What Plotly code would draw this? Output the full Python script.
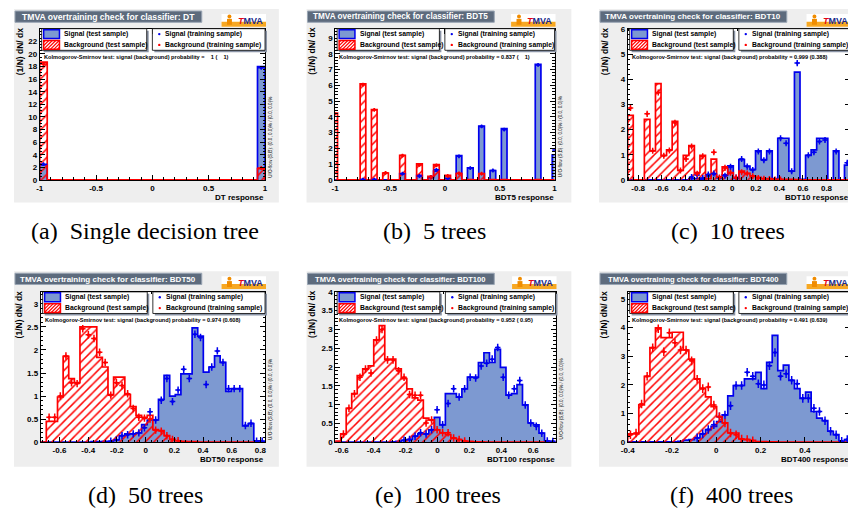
import plotly.graph_objects as go

# page body has an 8px margin: draw in page pixels, shifted into the figure
OX, OY = 8, 8
W, H = 856 - OX, 510 - OY

# ---------------- data ----------------
# (a) single decision tree : 30 bins on [-1, 1]; only filled bins listed
dt_hist = (-1.0, 1.0, 30)
dt_bins = [0, 29]
dt_sig_test = [2.4, 18.0]
dt_bkg_test = [18.7, 1.8]
dt_sig_train = [2.5, 17.8]
dt_bkg_train = [18.4, 1.9]

# (b) 5 trees : 40 bins on [-1.03, 1.03]; only filled bins listed
bdt5_hist = (-1.03, 1.03, 40)
bdt5_bins = [0, 5, 7, 9, 12, 15, 17, 18, 20, 22, 24, 26, 28, 30, 36, 39]
bdt5_sig_test = [0.0, 0.02, 0.02, 0.0, 0.41, 0.29, 0.15, 0.56, 0.06, 1.54, 0.77, 3.42, 0.6, 3.26, 7.34, 1.6]
bdt5_bkg_test = [4.25, 6.1, 4.46, 0.44, 1.56, 1.02, 0.22, 0.98, 0.29, 0.41, 0.02, 0.41, 0.02, 0.02, 0.02, 0.0]
bdt5_sig_train = [None, 0.02, 0.02, None, 0.4, 0.25, 0.2, 0.64, 0.1, 1.5, 0.75, 3.4, 0.6, 3.2, 7.3, 1.9]
bdt5_bkg_train = [4.2, 6.05, 4.45, 0.45, 1.55, 0.95, 0.2, 0.92, 0.25, 0.42, None, 0.4, None, None, None, None]

# (c) 10 trees : 40 bins on [-0.889, 1.0]
bdt10_hist = (-0.889, 1.0, 40)
bdt10_sig_test = [0, 0, 0, 0, 0, 0, 0, 0, 0, 0,
                  0, 0.05, 0.05, 0.03, 0.16, 0.22, 0.09, 0.2, 0.56, 0.06,
                  0.81, 0.55, 0.42, 1.16, 0.81, 1.16, 0.05, 1.66, 1.66, 0.35,
                  4.29, 0.02, 0.98, 1.2, 1.66, 1.66, 0.0, 1.16, 0.0, 0.59]
bdt10_bkg_test = [2.57, 0, 0, 2.41, 1.16, 3.83, 0.98, 1.2, 2.33, 0.38,
                  0.98, 1.37, 0.29, 0.98, 0.05, 0.83, 0.12, 0.52, 0.29, 0.08,
                  0.35, 0.26, 0.16, 0.1, 0.05, 0.05, 0.02, 0.02, 0.02, 0.02,
                  0.01, 0, 0, 0, 0, 0, 0, 0, 0, 0]
bdt10_sig_train = [None, None, None, None, None, None, None, None, None, None,
                   None, 0.12, 0.2, 0.08, 0.22, 0.26, 0.08, 0.17, 0.52, 0.1,
                   0.83, 0.53, 0.4, 1.13, 0.78, 1.13, None, 1.66, 1.46, 0.35,
                   4.65, None, 0.98, 1.1, 1.53, 1.59, None, 1.13, None, 0.68]
bdt10_bkg_train = [2.86, None, None, 2.63, 1.16, 3.48, 0.96, 1.17, 2.28, 0.38,
                   0.83, 1.33, 0.25, 0.94, None, 1.1, 0.1, 0.48, 0.29, 0.1,
                   0.31, 0.26, 0.15, 0.08, 0.05, 0.04, 0.02, 0.02, None, None,
                   None, None, None, None, None, None, None, None, None, None]

# (d) 50 trees : 40 bins on [-0.731, 0.832]
bdt50_hist = (-0.731, 0.832, 40)
bdt50_sig_test = [0, 0, 0, 0, 0, 0, 0, 0, 0, 0.01,
                  0.01, 0.02, 0.02, 0.05, 0.14, 0.18, 0.18, 0.2, 0.38, 0.48,
                  0.48, 0.93, 1.45, 1.0, 1.03, 1.48, 1.48, 2.48, 2.3, 1.52,
                  1.63, 1.87, 1.73, 1.1, 1.16, 1.16, 0.35, 0.4, 0.03, 0.02]
bdt50_bkg_test = [0, 0.45, 0.45, 0.98, 1.86, 1.38, 1.29, 2.5, 2.5, 2.5,
                  1.84, 1.63, 1.03, 1.41, 1.41, 1.03, 0.77, 0.58, 0.54, 0.58,
                  0.27, 0.25, 0.14, 0.06, 0.03, 0.02, 0.01, 0.01, 0, 0,
                  0, 0, 0, 0, 0, 0, 0, 0, 0, 0]
bdt50_sig_train = [None, None, None, None, None, None, None, None, None, None,
                   None, None, 0.02, 0.05, 0.14, 0.16, 0.18, 0.2, 0.31, 0.66,
                   0.48, 0.91, 1.38, 0.88, 1.13, 1.58, 1.38, 2.34, 2.27, 1.25,
                   1.63, 1.98, 1.73, 1.16, 1.16, 1.16, 0.36, 0.41, 0.02, 0.02]
bdt50_bkg_train = [None, 0.54, 0.54, 1.0, 1.87, 1.29, 1.27, 2.46, 2.33, 2.25,
                   1.95, 1.73, 1.02, 1.29, 1.23, 1.05, 0.73, 0.54, 0.52, 0.5,
                   0.26, 0.24, 0.14, 0.06, 0.03, None, None, None, None, None,
                   None, None, None, None, None, None, None, None, None, None]

# (e) 100 trees : 40 bins on [-0.641, 0.74]
bdt100_hist = (-0.641, 0.74, 40)
bdt100_sig_test = [0, 0, 0, 0, 0, 0, 0, 0, 0, 0,
                   0.01, 0.02, 0.05, 0.07, 0.16, 0.22, 0.22, 0.33, 0.66, 0.46,
                   1.29, 1.29, 1.2, 1.42, 1.73, 1.73, 2.12, 2.38, 2.12, 2.47,
                   1.99, 1.25, 1.29, 1.53, 0.99, 0.51, 0.46, 0.24, 0.03, 0.02]
bdt100_bkg_test = [0.03, 0.22, 0.9, 1.29, 1.77, 1.95, 2.03, 2.72, 3.1, 2.21,
                   2.21, 1.95, 1.69, 1.42, 1.18, 1.12, 0.64, 0.59, 0.33, 0.25,
                   0.2, 0.11, 0.07, 0.03, 0.02, 0.01, 0.01, 0, 0, 0,
                   0, 0, 0, 0, 0, 0, 0, 0, 0, 0]
bdt100_sig_train = [None, None, None, None, None, None, None, None, None, None,
                    None, None, 0.05, 0.07, 0.16, 0.25, 0.22, 0.33, 0.86, 0.46,
                    1.03, 1.42, 1.2, 1.42, 1.73, 1.71, 2.03, 2.1, 2.21, 2.52,
                    1.73, 1.25, 1.42, 1.64, 0.99, 0.51, 0.42, 0.24, 0.03, 0.02]
bdt100_bkg_train = [None, 0.22, 0.9, 1.29, 1.73, 1.95, 1.84, 2.72, 3.0, 2.19,
                    2.19, 1.9, 1.73, 1.27, 1.25, 1.25, 0.51, 0.59, 0.33, 0.25,
                    0.25, 0.11, 0.07, 0.03, None, None, None, None, None, None,
                    None, None, None, None, None, None, None, None, None, None]

# (f) 400 trees : 40 bins on [-0.4, 0.604]
bdt400_hist = (-0.4, 0.604, 40)
bdt400_sig_test = [0.01, 0.01, 0.01, 0.01, 0.01, 0.01, 0.01, 0.01, 0.01, 0.03,
                   0.07, 0.09, 0.15, 0.29, 0.44, 0.55, 0.72, 0.95, 1.62, 1.98,
                   1.98, 2.21, 2.21, 2.44, 1.87, 2.79, 3.73, 2.5, 2.69, 2.16,
                   1.87, 1.53, 1.75, 1.07, 0.84, 0.75, 0.38, 0.26, 0.03, 0.09]
bdt400_bkg_test = [0.29, 0.29, 1.3, 2.3, 3.3, 3.99, 3.65, 3.65, 3.84, 3.84,
                   3.22, 2.9, 2.21, 1.89, 1.58, 1.24, 0.89, 0.67, 0.32, 0.32,
                   0.11, 0.09, 0.06, 0.02, 0.02, 0.01, 0.01, 0, 0, 0,
                   0, 0, 0, 0, 0, 0, 0, 0, 0, 0]
bdt400_sig_train = [None, None, None, None, None, None, None, None, None, None,
                    None, None, 0.15, 0.29, 0.44, 0.61, 0.89, 0.95, 1.27, 1.98,
                    1.98, 2.44, 2.3, 2.04, 2.0, 2.67, 3.13, 2.3, 2.39, 2.16,
                    2.04, 1.53, 1.53, 1.18, 1.07, 0.75, 0.38, 0.26, 0.03, 0.09]
bdt400_bkg_train = [0.26, 0.32, 1.33, 2.3, 3.3, 3.96, 3.16, 3.82, 3.47, 3.22,
                    3.22, 2.84, 2.2, 1.87, 1.93, 1.3, 0.89, 0.67, 0.32, 0.26,
                    0.11, 0.09, 0.05, None, None, None, None, None, None, None,
                    None, None, None, None, None, None, None, None, None, None]

# tick labels
x_ticks_ab = [-1, -0.5, 0, 0.5, 1]
x_labels_ab = ["-1", "-0.5", "0", "0.5", "1"]
x_ticks_c = [-0.8, -0.6, -0.4, -0.2, 0, 0.2, 0.4, 0.6, 0.8, 1]
x_labels_c = ["-0.8", "-0.6", "-0.4", "-0.2", "0", "0.2", "0.4", "0.6", "0.8", "1"]
x_ticks_d = [-0.6, -0.4, -0.2, 0, 0.2, 0.4, 0.6, 0.8]
x_labels_d = ["-0.6", "-0.4", "-0.2", "0", "0.2", "0.4", "0.6", "0.8"]
x_ticks_e = [-0.6, -0.4, -0.2, 0, 0.2, 0.4, 0.6]
x_labels_e = ["-0.6", "-0.4", "-0.2", "0", "0.2", "0.4", "0.6"]
x_ticks_f = [-0.4, -0.2, 0, 0.2, 0.4]
x_labels_f = ["-0.4", "-0.2", "0", "0.2", "0.4"]
y_ticks_a = [0, 2, 4, 6, 8, 10, 12, 14, 16, 18, 20, 22]
y_ticks_b = [0, 1, 2, 3, 4, 5, 6, 7, 8, 9]
y_ticks_c = [0, 1, 2, 3, 4, 5, 6]
y_ticks_d = [0, 0.5, 1, 1.5, 2, 2.5, 3]
y_ticks_e = [0, 0.5, 1, 1.5, 2, 2.5, 3, 3.5, 4]
y_ticks_f = [0, 1, 2, 3, 4, 5]

NB = "\u00a0"
ks_values = ["   1 (    1)", "0.837 (    1)", "0.999 (0.388)", "0.974 (0.608)", "0.952 ( 0.95)", "0.491 (0.639)"]
classifiers = ["DT", "BDT5", "BDT10", "BDT50", "BDT100", "BDT400"]
captions = ["(a)  Single decision tree", "(b)  5 trees", "(c)  10 trees",
            "(d)  50 trees", "(e)  100 trees", "(f)  400 trees"]


def expand(nbins, bins, vals, empty):
    out = [empty] * nbins
    for b, v in zip(bins, vals):
        out[b] = v
    return out


n_a, n_b = dt_hist[2], bdt5_hist[2]
hists = [
    (dt_hist, expand(n_a, dt_bins, dt_sig_test, 0), expand(n_a, dt_bins, dt_bkg_test, 0),
     expand(n_a, dt_bins, dt_sig_train, None), expand(n_a, dt_bins, dt_bkg_train, None)),
    (bdt5_hist, expand(n_b, bdt5_bins, bdt5_sig_test, 0), expand(n_b, bdt5_bins, bdt5_bkg_test, 0),
     expand(n_b, bdt5_bins, bdt5_sig_train, None), expand(n_b, bdt5_bins, bdt5_bkg_train, None)),
    (bdt10_hist, bdt10_sig_test, bdt10_bkg_test, bdt10_sig_train, bdt10_bkg_train),
    (bdt50_hist, bdt50_sig_test, bdt50_bkg_test, bdt50_sig_train, bdt50_bkg_train),
    (bdt100_hist, bdt100_sig_test, bdt100_bkg_test, bdt100_sig_train, bdt100_bkg_train),
    (bdt400_hist, bdt400_sig_test, bdt400_bkg_test, bdt400_sig_train, bdt400_bkg_train),
]

# ---------------- layout / style (page pixels) ----------------
PANELS = [
    dict(canvas=(7, 5, 275, 202), plot=(33, 25, 261, 179), xr=(-1, 1), yr=(0, 24), tsize=8.6,
         xt=(x_ticks_ab, x_labels_ab), yt=y_ticks_a, xminor=0.1, yminor=0.5, err=0.3, cap=(140, 231)),
    dict(canvas=(303, 5, 571, 202), plot=(332, 25, 554, 179), xr=(-1, 1), yr=(0, 9.6), tsize=8.2,
         xt=(x_ticks_ab, x_labels_ab), yt=y_ticks_b, xminor=0.1, yminor=0.2, err=0.12, cap=(432, 231)),
    dict(canvas=(599, 5, 860, 202), plot=(628, 25, 853, 179), xr=(-0.889, 1.0), yr=(0, 6.02), tsize=8.0,
         xt=(x_ticks_c, x_labels_c), yt=y_ticks_c, xminor=0.04, yminor=0.2, err=0.12, cap=(730, 231)),
    dict(canvas=(7, 272, 275, 471), plot=(34, 293, 261, 446), xr=(-0.731, 0.832), yr=(0, 3.26), tsize=8.0,
         xt=(x_ticks_d, x_labels_d), yt=y_ticks_d, xminor=0.04, yminor=0.1, err=0.08, cap=(140, 500)),
    dict(canvas=(303, 272, 571, 471), plot=(332, 293, 555, 446), xr=(-0.641, 0.74), yr=(0, 4.0), tsize=7.6,
         xt=(x_ticks_e, x_labels_e), yt=y_ticks_e, xminor=0.04, yminor=0.1, err=0.1, cap=(436, 500)),
    dict(canvas=(599, 272, 860, 471), plot=(628, 293, 853, 446), xr=(-0.4, 0.604), yr=(0, 5.25), tsize=7.6,
         xt=(x_ticks_f, x_labels_f), yt=y_ticks_f, xminor=0.04, yminor=0.2, err=0.15, cap=(733, 500)),
]

FONT = "Liberation Sans, Arial, Helvetica, sans-serif"
SERIF = "Liberation Serif, Times New Roman, serif"
SIG_LINE = "#0000ee"
SIG_FILL = "#7d99d1"
BKG = "#ff0000"
CANVAS = "#eeeeee"
TITLE_BOX = "#5d6b7d"
TITLE_BORDER = "#9aa6b4"
SHADOW = "#8a94a6"

shapes, annots = [], []


def X(px):
    return (px - OX) / W


def Y(py):
    return 1 - (py - OY) / H


def rect(x0, y0, x1, y1, fill, line=None, lw=0, layer="above"):
    shapes.append(dict(type="rect", xref="paper", yref="paper", x0=X(x0), x1=X(x1),
                       y0=Y(y1), y1=Y(y0), fillcolor=fill, layer=layer,
                       line=dict(color=line if line else fill, width=lw)))


def seg(x0, y0, x1, y1, color, lw=1):
    shapes.append(dict(type="line", xref="paper", yref="paper", x0=X(x0), x1=X(x1),
                       y0=Y(y0), y1=Y(y1), line=dict(color=color, width=lw), layer="above"))


def circ(cx, cy, r, color):
    shapes.append(dict(type="circle", xref="paper", yref="paper", x0=X(cx - r), x1=X(cx + r),
                       y0=Y(cy + r), y1=Y(cy - r), fillcolor=color, line=dict(color=color, width=0),
                       layer="above"))


def text(s, x, y, size, color="black", xa="left", ya="middle", angle=0, weight="bold", family=FONT):
    annots.append(dict(text=s, x=X(x), y=Y(y), xref="paper", yref="paper", showarrow=False,
                       xanchor=xa, yanchor=ya, textangle=angle, borderpad=0,
                       font=dict(family=family, size=size, color=color, weight=weight)))


def hatch(x0, y0, x1, y1, step, color):
    c = x0 + y0 + step / 2
    while c < x1 + y1:
        xa, xb = max(x0, c - y1), min(x1, c - y0)
        if xb > xa:
            seg(xa, c - xa, xb, c - xb, color, 1.2)
        c += step


def step_xy(lo, hi, vals):
    n = len(vals)
    w = (hi - lo) / n
    e = [lo + w * k for k in range(n + 1)]
    xs = [e[0]] + e[:n] + [e[n], e[n]]
    ys = [0] + list(vals) + [vals[-1], 0]
    return xs, ys


def points(lo, hi, vals):
    n = len(vals)
    w = (hi - lo) / n
    xs, ys = [], []
    for k, v in enumerate(vals):
        if v is not None:
            xs.append(lo + w * (k + 0.5))
            ys.append(v)
    return xs, ys, w


fig = go.Figure()
layout_axes = {}

for i, (p, h) in enumerate(zip(PANELS, hists)):
    sfx = "" if i == 0 else str(i + 1)
    (lo, hi, nb), sig_t, bkg_t, sig_tr, bkg_tr = h
    cx0, cy0, cx1, cy1 = p["canvas"]
    px0, py0, px1, py1 = p["plot"]
    pw = px1 - px0

    # canvas + frame
    rect(cx0, cy0, cx1, cy1, CANVAS, layer="below")
    rect(px0, py0, px1, py1, "white", layer="below")

    common = dict(showline=True, linecolor="black", linewidth=1, mirror="ticks", ticks="inside",
                  ticklen=5, tickwidth=1, tickcolor="black", showgrid=False, zeroline=False,
                  fixedrange=True, tickmode="array",
                  tickfont=dict(family=FONT, size=8, color="black", weight="bold"))
    layout_axes["xaxis" + sfx] = dict(common, domain=[X(px0), X(px1)], anchor="y" + sfx,
                                      range=list(p["xr"]), tickvals=p["xt"][0], ticktext=p["xt"][1],
                                      minor=dict(ticks="inside", ticklen=2.5, dtick=p["xminor"],
                                                 tick0=0, tickcolor="black", showgrid=False))
    layout_axes["yaxis" + sfx] = dict(common, domain=[Y(py1), Y(py0)], anchor="x" + sfx,
                                      range=list(p["yr"]), tickvals=p["yt"],
                                      ticktext=[("%g" % v) for v in p["yt"]],
                                      minor=dict(ticks="inside", ticklen=2.5, dtick=p["yminor"],
                                                 tick0=0, tickcolor="black", showgrid=False))

    xa, ya = "x" + sfx, "y" + sfx
    xs, ys = step_xy(lo, hi, sig_t)
    fig.add_trace(go.Scatter(x=xs, y=ys, xaxis=xa, yaxis=ya, mode="lines",
                             line=dict(color=SIG_LINE, width=1.7, shape="hv"),
                             fill="tozeroy", fillcolor=SIG_FILL, hoverinfo="skip", showlegend=False))
    xs, ys = step_xy(lo, hi, bkg_t)
    fig.add_trace(go.Scatter(x=xs, y=ys, xaxis=xa, yaxis=ya, mode="lines",
                             line=dict(color=BKG, width=1.7, shape="hv"),
                             fill="tozeroy", fillcolor="rgba(0,0,0,0)",
                             fillpattern=dict(shape="/", fgcolor=BKG, bgcolor="rgba(0,0,0,0)",
                                              size=6, solidity=0.25, fillmode="replace"),
                             hoverinfo="skip", showlegend=False))
    for vals, col in ((sig_tr, SIG_LINE), (bkg_tr, BKG)):
        mx, my, w = points(lo, hi, vals)
        fig.add_trace(go.Scatter(x=mx, y=my, xaxis=xa, yaxis=ya, mode="markers",
                                 marker=dict(color=col, size=3),
                                 error_x=dict(type="constant", value=w / 2, color=col, thickness=1.5, width=0),
                                 error_y=dict(type="constant", value=p["err"], color=col, thickness=1.5, width=0),
                                 hoverinfo="skip", showlegend=False))

    # title box
    rect(cx0 + 1, cy0 + 2, cx0 + 190, cy0 + 13.5, TITLE_BOX, TITLE_BORDER, 1)
    text("TMVA overtraining check for classifier: " + classifiers[i], cx0 + 95.5, cy0 + 8, p["tsize"],
         color="white", xa="center")

    # TMVA logo
    lx1 = px1 + 1
    lx0 = lx1 - 45
    ly0, ly1 = cy0 + 5, cy0 + 18
    rect(lx0, ly0, lx1, ly1, "white")
    rect(lx0, ly1 - 5, lx1, ly1, "#f7a823")
    circ(lx0 + 8, ly0 + 2.5, 2, "#f08c00")
    rect(lx0 + 5.5, ly0 + 5, lx0 + 10.5, ly1 - 2, "#f08c00")
    text("<i><span style='color:#e30613'>T</span></i><span style='color:#1b2a8a'>MVA</span>",
         lx0 + 29, ly0 + 7, 9, xa="center")

    # legend boxes
    lb = (px0 + 2, py0, px0 + 0.475 * pw, py0 + 22)
    rb = (px0 + 0.5 * pw, py0, px1, py0 + 22)
    for b in (lb, rb):
        rect(b[0] + 2, b[1] + 2, b[2] + 2, b[3] + 2, SHADOW)
        rect(b[0], b[1], b[2], b[3], "white", "black", 0.8)
    r1, r2 = py0 + 5.5, py0 + 16.5
    rect(lb[0] + 2, r1 - 4.5, lb[0] + 18, r1 + 4.5, SIG_FILL, SIG_LINE, 1.5)
    rect(lb[0] + 2, r2 - 4.5, lb[0] + 18, r2 + 4.5, "white")
    hatch(lb[0] + 2, r2 - 4.5, lb[0] + 18, r2 + 4.5, 3.5, BKG)
    rect(lb[0] + 2, r2 - 4.5, lb[0] + 18, r2 + 4.5, "rgba(0,0,0,0)", BKG, 1.5)
    text("Signal (test sample)", lb[0] + 22, r1, 6.8)
    text("Background (test sample)", lb[0] + 22, r2, 6.8)
    circ(rb[0] + 7, r1, 1.2, SIG_LINE)
    circ(rb[0] + 7, r2, 1.2, BKG)
    text("Signal (training sample)", rb[0] + 12, r1, 6.8)
    text("Background (training sample)", rb[0] + 12, r2, 6.8)

    # KS text
    text(("Kolmogorov-Smirnov test: signal (background) probability = " + ks_values[i]).replace(" ", NB),
         px0 + 3, py0 + 29, 5.6)
    # under/overflow (outside the page for the right-hand column, as in the reference)
    if px1 + 10 < 856:
        text("U/O-flow (S,B): (0.0, 0.0)% / (0.0, 0.0)%", px1 + 6, py1 - 44, 4.6, angle=-90,
             xa="center", ya="middle", weight="normal")
    # axis titles
    text("(1/N) dN/ dx", cx0 + 6, py0 + 23, 8.5, angle=-90, xa="center", ya="middle")
    text(classifiers[i] + " response", px1, py1 + 18, 8, xa="right")
    # caption
    text(captions[i].replace(" ", NB), p["cap"][0], p["cap"][1], 24, xa="center",
         weight="normal", family=SERIF)

fig.update_layout(width=W, height=H, margin=dict(l=0, r=0, t=0, b=0), autosize=False,
                  paper_bgcolor="white", plot_bgcolor="rgba(0,0,0,0)", showlegend=False,
                  shapes=shapes, annotations=annots, **layout_axes)

fig.write_html("out.html")
